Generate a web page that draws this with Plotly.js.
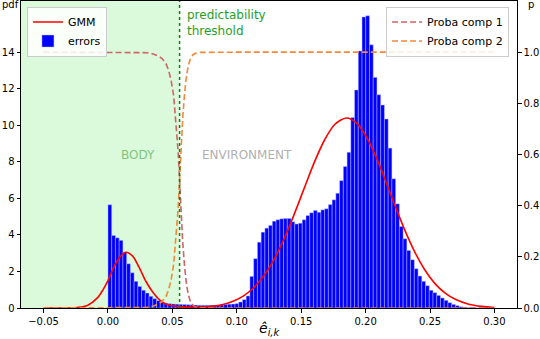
<!DOCTYPE html>
<html>
<head>
<meta charset="utf-8">
<script src="https://cdn.plot.ly/plotly-3.0.1.min.js"></script>
<style>
  html, body { margin: 0; padding: 0; background: #fff; }
  #plot { width: 540px; height: 339px; }
</style>
</head>
<body>
<div id="plot"></div>
<script>
// histogram of errors (density), bins start at 0 with a fixed width
let bin_start = 0.0;
let bin_width = 0.0029;
let hist_heights = [
  5.65, 3.97, 3.84, 3.70, 3.04, 2.42, 1.93, 1.46, 1.18, 0.97,
  0.82, 0.64, 0.51, 0.40, 0.33, 0.27, 0.24, 0.22, 0.21, 0.20,
  0.19, 0.18, 0.17, 0.16, 0.15, 0.15, 0.15, 0.15, 0.15, 0.16,
  0.17, 0.19, 0.21, 0.22, 0.24, 0.33, 0.46, 0.66, 1.73, 2.70,
  3.60, 4.15, 4.37, 4.52, 4.75, 4.83, 4.88, 4.90, 4.90, 4.72,
  4.60, 4.64, 4.83, 5.06, 5.21, 5.34, 5.24, 5.37, 5.43, 5.66,
  5.92, 6.28, 6.97, 7.74, 8.52, 10.43, 11.93, 14.07, 15.93, 15.99,
  14.40, 12.62, 11.67, 11.11, 10.34, 8.75, 7.07, 5.70, 4.46, 3.79,
  3.15, 2.64, 2.15, 1.75, 1.46, 1.22, 0.97, 0.84, 0.69, 0.55,
  0.42, 0.29, 0.20, 0.13, 0.07, 0.04, 0.02, 0.01, 0.005, 0.003
];

// GMM pdf curve
let gmm_x = [
  -0.05, -0.03, -0.024, -0.016, -0.008, -0.004, 0.0, 0.005, 0.010, 0.014,
  0.019, 0.024, 0.0295, 0.035, 0.040, 0.045, 0.050, 0.057, 0.065, 0.072,
  0.080, 0.090, 0.098, 0.105, 0.112, 0.120, 0.128, 0.136, 0.144, 0.152,
  0.160, 0.168, 0.176, 0.185, 0.193, 0.200, 0.208, 0.215, 0.222, 0.230,
  0.238, 0.246, 0.254, 0.262, 0.270, 0.280, 0.290, 0.300
];
let gmm_y = [
  0.0, 0.003, 0.03, 0.14, 0.57, 0.98, 1.5, 2.3, 2.85, 3.05,
  2.85, 2.25, 1.45, 0.85, 0.45, 0.22, 0.12, 0.06, 0.04, 0.05,
  0.09, 0.21, 0.40, 0.65, 1.04, 1.67, 2.54, 3.68, 5.03, 6.49,
  7.94, 9.18, 10.04, 10.4, 10.12, 9.44, 8.28, 7.05, 5.75, 4.33,
  3.09, 2.08, 1.32, 0.80, 0.46, 0.21, 0.09, 0.03
];

// component probabilities (right axis)
let proba_x = [
  -0.05, 0.0, 0.02, 0.03, 0.035, 0.039, 0.042, 0.045, 0.047, 0.049,
  0.051, 0.053, 0.0545, 0.0556, 0.0567, 0.058, 0.0595, 0.061, 0.0625, 0.064,
  0.066, 0.068, 0.072, 0.10, 0.20, 0.30
];
let proba_comp1 = [
  1, 1, 1, 0.998, 0.993, 0.985, 0.975, 0.955, 0.93, 0.89,
  0.83, 0.72, 0.61, 0.5, 0.38, 0.26, 0.16, 0.09, 0.05, 0.025,
  0.01, 0.004, 0.001, 0, 0, 0
];
let proba_comp2 = [
  0, 0, 0, 0.002, 0.007, 0.015, 0.025, 0.045, 0.07, 0.11,
  0.17, 0.28, 0.39, 0.5, 0.62, 0.74, 0.84, 0.91, 0.95, 0.975,
  0.99, 0.996, 0.999, 1, 1, 1
];

let threshold = 0.0556;
let x_range = [-0.0675, 0.3175];

let x_ticks = [-0.05, 0.0, 0.05, 0.10, 0.15, 0.20, 0.25, 0.30];
let x_tick_text = ["\u22120.05", "0.00", "0.05", "0.10", "0.15", "0.20", "0.25", "0.30"];
let y_ticks = [0, 2, 4, 6, 8, 10, 12, 14];
let p_ticks = [0, 0.2, 0.4, 0.6, 0.8, 1.0];
let p_tick_text = ["0.0", "0.2", "0.4", "0.6", "0.8", "1.0"];

let bin_centers = hist_heights.map((h, i) => bin_start + bin_width * (i + 0.5));

let font_family = "DejaVu Sans, sans-serif";

let data = [
  {
    type: "bar",
    x: bin_centers,
    y: hist_heights,
    width: bin_width,
    name: "errors",
    marker: { color: "#0000ff", line: { color: "rgba(190,195,255,0.9)", width: 0.5 } },
    legend: "legend",
    hoverinfo: "skip",
  },
  {
    type: "scatter",
    mode: "lines",
    x: gmm_x,
    y: gmm_y,
    name: "GMM",
    line: { color: "#ff0000", width: 1.6, shape: "spline", smoothing: 0.8 },
    legend: "legend",
  },
  {
    type: "scatter",
    mode: "lines",
    x: proba_x,
    y: proba_comp1,
    yaxis: "y2",
    name: "Proba comp 1",
    line: { color: "#d06464", width: 1.6, dash: "6px,3px" },
    legend: "legend2",
  },
  {
    type: "scatter",
    mode: "lines",
    x: proba_x,
    y: proba_comp2,
    yaxis: "y2",
    name: "Proba comp 2",
    line: { color: "#f5883a", width: 1.6, dash: "6px,3px" },
    legend: "legend2",
  },
];

var layout = {
  width: 540,
  height: 339,
  margin: { l: 21, r: 23, t: 1, b: 31 },
  paper_bgcolor: "#ffffff",
  plot_bgcolor: "#ffffff",
  font: { family: font_family, size: 10, color: "#000" },
  bargap: 0,
  showlegend: true,
  xaxis: {
    range: x_range,
    tickvals: x_ticks,
    ticktext: x_tick_text,
    ticks: "outside",
    ticklen: 3.5,
    tickcolor: "#000",
    showline: true,
    linecolor: "#000",
    linewidth: 1,
    mirror: true,
    showgrid: false,
    zeroline: false,
    tickfont: { size: 10 },
  },
  yaxis: {
    range: [0, 16.8],
    tickvals: y_ticks,
    ticks: "outside",
    ticklen: 3.5,
    tickcolor: "#000",
    showline: true,
    linecolor: "#000",
    linewidth: 1,
    showgrid: false,
    zeroline: false,
    tickfont: { size: 10 },
  },
  yaxis2: {
    range: [0, 1.2],
    overlaying: "y",
    side: "right",
    tickvals: p_ticks,
    ticktext: p_tick_text,
    ticks: "outside",
    ticklen: 3.5,
    tickcolor: "#000",
    showline: true,
    linecolor: "#000",
    linewidth: 1,
    showgrid: false,
    zeroline: false,
    tickfont: { size: 10 },
  },
  legend: {
    x: 0.012,
    y: 0.982,
    xanchor: "left",
    yanchor: "top",
    bgcolor: "rgba(255,255,255,0.85)",
    bordercolor: "#cccccc",
    borderwidth: 1,
    font: { size: 11 },
    tracegroupgap: 0,
    traceorder: "reversed",
  },
  legend2: {
    x: 0.984,
    y: 0.982,
    xanchor: "right",
    yanchor: "top",
    bgcolor: "rgba(255,255,255,0.85)",
    bordercolor: "#cccccc",
    borderwidth: 1,
    font: { size: 11 },
    tracegroupgap: 0,
  },
  shapes: [
    {
      type: "rect",
      xref: "x",
      yref: "paper",
      x0: x_range[0],
      x1: threshold,
      y0: 0,
      y1: 1,
      fillcolor: "rgba(144,238,144,0.32)",
      line: { width: 0 },
      layer: "below",
    },
    {
      type: "line",
      xref: "x",
      yref: "paper",
      x0: threshold,
      x1: threshold,
      y0: 0,
      y1: 1,
      line: { color: "#008c00", width: 1.5, dash: "dot" },
      layer: "above",
    },
  ],
  annotations: [
    {
      text: "predictability<br>threshold",
      xref: "x",
      yref: "paper",
      x: 0.0596,
      y: 0.985,
      xanchor: "left",
      yanchor: "top",
      align: "left",
      showarrow: false,
      font: { size: 12, color: "#1f9e1f" },
    },
    {
      text: "BODY",
      xref: "x",
      yref: "y",
      x: 0.0235,
      y: 8.4,
      showarrow: false,
      font: { size: 12, color: "#80c480" },
    },
    {
      text: "ENVIRONMENT",
      xref: "x",
      yref: "y",
      x: 0.108,
      y: 8.4,
      showarrow: false,
      font: { size: 12, color: "#b0b0b0" },
    },
    {
      text: "pdf",
      xref: "paper",
      yref: "paper",
      x: -0.043,
      y: 1,
      xanchor: "left",
      yanchor: "middle",
      yshift: -3,
      showarrow: false,
      font: { size: 10 },
    },
    {
      text: "p",
      xref: "paper",
      yref: "paper",
      x: 1.018,
      y: 1,
      xanchor: "left",
      yanchor: "middle",
      yshift: -3,
      showarrow: false,
      font: { size: 10 },
    },
    {
      text: "<i>\u00ea</i><sub><i>i,k</i></sub>",
      xref: "paper",
      yref: "paper",
      x: 0.5,
      y: 0,
      xanchor: "center",
      yanchor: "top",
      yshift: -10,
      showarrow: false,
      font: { size: 14 },
    },
  ],
};

Plotly.newPlot("plot", data, layout, { staticPlot: true, displayModeBar: false });
</script>
</body>
</html>
